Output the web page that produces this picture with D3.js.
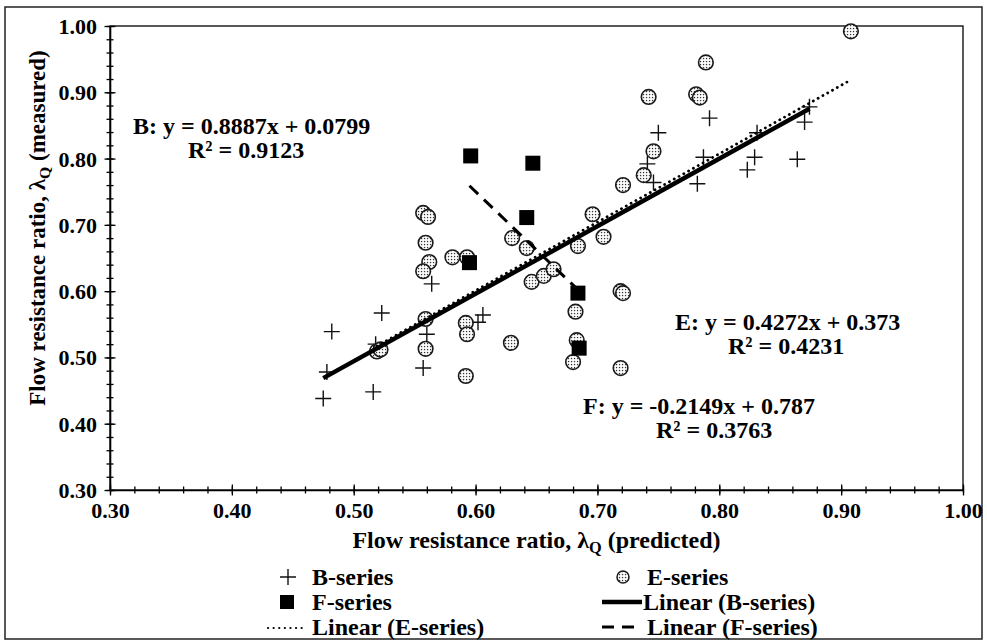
<!DOCTYPE html>
<html>
<head>
<meta charset="utf-8">
<script src="https://cdn.jsdelivr.net/npm/d3@7"></script>
<style>
  body { margin: 0; background: #fff; }
  svg { display: block; }
  text { font-family: "Liberation Serif", "Times New Roman", serif; font-weight: bold; fill: #000; }
</style>
</head>
<body>
<svg id="chart" width="987" height="644"></svg>
<script>
// ---- data: predicted (x) and measured (y) flow resistance ratios ----
const bPredicted = [0.475, 0.478, 0.482, 0.516, 0.518, 0.523, 0.557, 0.560, 0.564, 0.602, 0.606,
                    0.741, 0.746, 0.750, 0.782, 0.787, 0.792, 0.823, 0.829, 0.831, 0.864, 0.870, 0.874];
const bMeasured  = [0.438, 0.478, 0.539, 0.448, 0.520, 0.567, 0.484, 0.535, 0.611, 0.553, 0.564,
                    0.792, 0.764, 0.839, 0.762, 0.802, 0.861, 0.783, 0.802, 0.839, 0.799, 0.855, 0.878];

const ePredicted = [0.908, 0.789, 0.742, 0.781, 0.784, 0.746, 0.738, 0.721, 0.696, 0.630, 0.642, 0.684, 0.705,
                    0.557, 0.561, 0.559, 0.562, 0.557, 0.581, 0.593, 0.646, 0.656, 0.664, 0.682, 0.683, 0.680,
                    0.719, 0.721, 0.719, 0.559, 0.559, 0.592, 0.593, 0.629, 0.592, 0.519, 0.522];
const eMeasured  = [0.992, 0.945, 0.893, 0.897, 0.892, 0.811, 0.775, 0.760, 0.716, 0.680, 0.665, 0.668, 0.682,
                    0.718, 0.712, 0.673, 0.644, 0.630, 0.651, 0.651, 0.614, 0.623, 0.633, 0.569, 0.526, 0.493,
                    0.600, 0.597, 0.484, 0.558, 0.513, 0.552, 0.535, 0.522, 0.472, 0.509, 0.512];

const fPredicted = [0.596, 0.647, 0.642, 0.595, 0.684, 0.685];
const fMeasured  = [0.804, 0.793, 0.711, 0.643, 0.597, 0.514];

const majorTicks = [0.30, 0.40, 0.50, 0.60, 0.70, 0.80, 0.90, 1.00];
const minorTicks = d3.range(0.30, 1.001, 0.02);

const xTitle = ["Flow resistance ratio, λ", "Q", " (predicted)"];
const yTitle = ["Flow resistance ratio, λ", "Q", " (measured)"];

const bEquation = ["B: y = 0.8887x + 0.0799", "R² = 0.9123"];
const eEquation = ["E: y = 0.4272x + 0.373", "R² = 0.4231"];
const fEquation = ["F: y = -0.2149x + 0.787", "R² = 0.3763"];

const legendNames = ["B-series", "E-series", "F-series", "Linear (B-series)", "Linear (E-series)", "Linear (F-series)"];

// ---- layout ----
const svg = d3.select("#chart");
const W = 987, H = 644;
const plot = { left: 110, right: 963, top: 26, bottom: 490 };

const x = d3.scaleLinear().domain([0.30, 1.00]).range([plot.left, plot.right]);
const y = d3.scaleLinear().domain([0.30, 1.00]).range([plot.bottom, plot.top]);

const pts = (xs, ys) => xs.map((v, i) => ({ x: v, y: ys[i] }));
const bPts = pts(bPredicted, bMeasured);
const ePts = pts(ePredicted, eMeasured);
const fPts = pts(fPredicted, fMeasured);

// least-squares straight line through a series, spanning its x range
function linearFit(data) {
  const mx = d3.mean(data, d => d.x), my = d3.mean(data, d => d.y);
  const sxy = d3.sum(data, d => (d.x - mx) * (d.y - my));
  const sxx = d3.sum(data, d => (d.x - mx) ** 2);
  const slope = sxy / sxx, icpt = my - slope * mx;
  const [x0, x1] = d3.extent(data, d => d.x);
  return [{ x: x0, y: slope * x0 + icpt }, { x: x1, y: slope * x1 + icpt }];
}

// dotted fill used by the E-series markers
const defs = svg.append("defs");
const pat = defs.append("pattern").attr("id", "dots")
  .attr("patternUnits", "userSpaceOnUse").attr("width", 3).attr("height", 3);
pat.append("rect").attr("width", 3).attr("height", 3).attr("fill", "#fff");
pat.append("rect").attr("x", 0.9).attr("y", 0.9).attr("width", 1.3).attr("height", 1.3).attr("fill", "#333");

// outer frame
svg.append("rect").attr("x", 5).attr("y", 7).attr("width", W - 10).attr("height", H - 12)
  .attr("fill", "#fff").attr("stroke", "#222").attr("stroke-width", 1.5);

// plot frame
svg.append("rect").attr("x", plot.left).attr("y", plot.top)
  .attr("width", plot.right - plot.left).attr("height", plot.bottom - plot.top)
  .attr("fill", "none").attr("stroke", "#000").attr("stroke-width", 1.3);

// ---- axes: ticks cross the axis line, so draw each tick set on both sides ----
function crossTicks(axisA, axisB, transform, values, size) {
  [axisA, axisB].forEach(mk => {
    const g = svg.append("g").attr("transform", transform)
      .call(mk.tickValues(values).tickSize(size).tickFormat(""));
    g.select(".domain").remove();
    g.selectAll("line").attr("stroke", "#000").attr("stroke-width", 1.3);
  });
}
crossTicks(d3.axisLeft(y), d3.axisRight(y), `translate(${plot.left},0)`, minorTicks, 3.5);
crossTicks(d3.axisLeft(y), d3.axisRight(y), `translate(${plot.left},0)`, majorTicks, 5.5);
crossTicks(d3.axisBottom(x), d3.axisTop(x), `translate(0,${plot.bottom})`, minorTicks, 3.5);
crossTicks(d3.axisBottom(x), d3.axisTop(x), `translate(0,${plot.bottom})`, majorTicks, 5.5);

const fmt = d3.format(".2f");
const yAxis = svg.append("g").attr("transform", `translate(${plot.left},0)`)
  .call(d3.axisLeft(y).tickValues(majorTicks).tickSize(0).tickPadding(0).tickFormat(fmt));
yAxis.select(".domain").attr("stroke", "#000").attr("stroke-width", 1.6);
yAxis.selectAll("text").attr("font-size", 22).attr("font-family", null)
  .attr("x", -13).attr("dy", "0.34em");

const xAxis = svg.append("g").attr("transform", `translate(0,${plot.bottom})`)
  .call(d3.axisBottom(x).tickValues(majorTicks).tickSize(0).tickPadding(0).tickFormat(fmt));
xAxis.select(".domain").attr("stroke", "#000").attr("stroke-width", 1.6);
xAxis.selectAll("text").attr("font-size", 22).attr("font-family", null)
  .attr("y", 28).attr("dy", 0);

// ---- axis titles ----
function titleText(g, parts, size) {
  const t = g.append("text").attr("font-size", size).attr("text-anchor", "middle");
  t.append("tspan").text(parts[0]);
  t.append("tspan").attr("font-size", size * 0.68).attr("dy", 5).text(parts[1]);
  t.append("tspan").attr("dy", -5).text(parts[2]);
}
titleText(svg.append("g").attr("transform", `translate(${(plot.left + plot.right) / 2},548)`), xTitle, 24);
titleText(svg.append("g").attr("transform", `translate(45,228) rotate(-90)`), yTitle, 23);

// ---- markers ----
const plusPath = "M-8,0H8M0,-8V8";
svg.append("g").selectAll("path").data(bPts).join("path")
  .attr("transform", d => `translate(${x(d.x)},${y(d.y)})`)
  .attr("d", plusPath).attr("stroke", "#111").attr("stroke-width", 1.4).attr("fill", "none");

svg.append("g").selectAll("circle").data(ePts).join("circle")
  .attr("cx", d => x(d.x)).attr("cy", d => y(d.y)).attr("r", 7.3)
  .attr("fill", "url(#dots)").attr("stroke", "#1a1a1a").attr("stroke-width", 1.6);

svg.append("g").selectAll("rect").data(fPts).join("rect")
  .attr("x", d => x(d.x) - 7.5).attr("y", d => y(d.y) - 7.5)
  .attr("width", 15).attr("height", 15).attr("fill", "#000");

// ---- trend lines ----
const line = d3.line().x(d => x(d.x)).y(d => y(d.y));
const styles = {
  solid:  { w: 4.5, dash: null, cap: "butt" },
  dotted: { w: 2.8, dash: "0.1 5.4", cap: "round" },
  dashed: { w: 3,   dash: "12 8", cap: "butt" }
};
function styled(sel, s) {
  return sel.attr("fill", "none").attr("stroke", "#000").attr("stroke-width", s.w)
    .attr("stroke-dasharray", s.dash).attr("stroke-linecap", s.cap);
}
styled(svg.append("path").attr("d", line(linearFit(bPts))), styles.solid);
styled(svg.append("path").attr("d", line(linearFit(ePts))), styles.dotted);
styled(svg.append("path").attr("d", line(linearFit(fPts))), styles.dashed);

// ---- regression equation labels ----
function equation(lines, x0, y0, x1, y1) {
  [[x0, y0], [x1, y1]].forEach(([px, py], i) => {
    svg.append("text").attr("x", px).attr("y", py).attr("font-size", 24).text(lines[i]);
  });
}
equation(bEquation, 133, 134, 188, 158);
equation(eEquation, 675, 330, 728, 354);
equation(fEquation, 583, 414, 656, 438);

// ---- legend ----
const leg = svg.append("g");
function legText(name, px, py) {
  leg.append("text").attr("x", px).attr("y", py + 8).attr("font-size", 24).text(name);
}
// row 1
leg.append("path").attr("transform", "translate(288,577)").attr("d", plusPath)
  .attr("stroke", "#111").attr("stroke-width", 1.4);
legText(legendNames[0], 312, 577);
leg.append("circle").attr("cx", 623).attr("cy", 577).attr("r", 6)
  .attr("fill", "url(#dots)").attr("stroke", "#1a1a1a").attr("stroke-width", 1.5);
legText(legendNames[1], 647, 577);
// row 2
leg.append("rect").attr("x", 280).attr("y", 595).attr("width", 14).attr("height", 14).attr("fill", "#000");
legText(legendNames[2], 312, 602);
styled(leg.append("path").attr("d", "M602,602H642"), styles.solid);
legText(legendNames[3], 643, 602);
// row 3
styled(leg.append("path").attr("d", "M268,628H307"), { w: 2.2, dash: "0.1 5.5", cap: "round" });
legText(legendNames[4], 312, 627);
styled(leg.append("path").attr("d", "M602,627H638"), styles.dashed);
legText(legendNames[5], 647, 627);
</script>
</body>
</html>
